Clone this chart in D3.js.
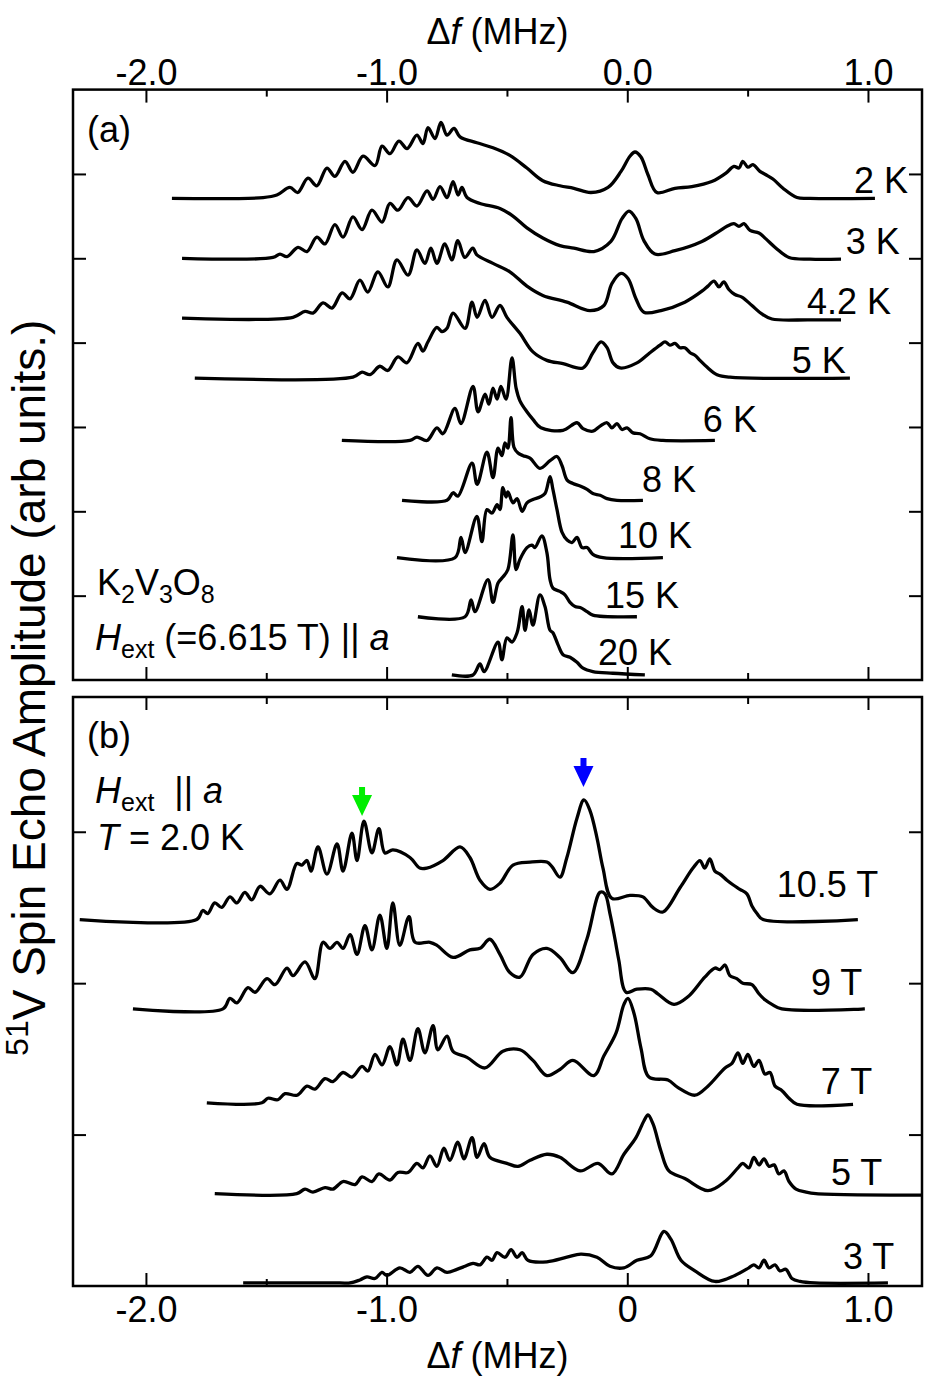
<!DOCTYPE html>
<html><head><meta charset="utf-8">
<script src="https://cdn.jsdelivr.net/npm/d3@7"></script>
<style>
body{margin:0;background:#fff}
svg{display:block}
text{font-family:"Liberation Sans",Arial,Helvetica,sans-serif;fill:#000;white-space:pre}
</style>
</head><body>
<svg id="c" width="928" height="1382"></svg>
<script>
// ---------------- DATA ----------------
const xTicksMajor = [-2, -1, 0, 1];
const xTopLabels = ["-2.0", "-1.0", "0.0", "1.0"];
const xBottomLabels = ["-2.0", "-1.0", "0", "1.0"];
const xTicksMinor = [-1.5, -0.5, 0.5];
const yTicksA = [1, 2, 3, 4, 5, 6];
const yTicksB = [1, 2, 3];

// panel (a): temperature dependence, [Δf (MHz), amplitude above offset (arb.)]
const temperatures = ["2 K", "3 K", "4.2 K", "5 K", "6 K", "8 K", "10 K", "15 K", "20 K"];
const tempOffsets = [5.71, 5.00, 4.29, 3.58, 2.84, 2.13, 1.45, 0.75, 0.06];
const spec2K = [[-1.892,0],[-1.513,0.01],[-1.456,0.04],[-1.402,0.13],[-1.369,0.07],[-1.327,0.24],[-1.290,0.15],[-1.248,0.36],[-1.215,0.26],[-1.173,0.44],[-1.140,0.31],[-1.098,0.50],[-1.048,0.39],[-1.019,0.62],[-0.986,0.53],[-0.949,0.68],[-0.915,0.59],[-0.874,0.75],[-0.849,0.65],[-0.828,0.84],[-0.799,0.71],[-0.774,0.90],[-0.749,0.75],[-0.720,0.83],[-0.695,0.73],[-0.625,0.66],[-0.558,0.60],[-0.488,0.51],[-0.417,0.36],[-0.351,0.21],[-0.280,0.15],[-0.222,0.12],[-0.151,0.07],[-0.080,0.13],[-0.026,0.32],[0.011,0.50],[0.032,0.55],[0.057,0.49],[0.086,0.28],[0.123,0.07],[0.198,0.12],[0.268,0.14],[0.351,0.20],[0.410,0.30],[0.443,0.38],[0.464,0.36],[0.480,0.44],[0.501,0.37],[0.522,0.40],[0.551,0.32],[0.576,0.28],[0.605,0.23],[0.647,0.12],[0.705,0.01],[0.759,0],[1.029,0]];
const spec3K = [[-1.850,0],[-1.472,0.01],[-1.443,0.05],[-1.414,0.02],[-1.368,0.13],[-1.331,0.08],[-1.290,0.25],[-1.256,0.17],[-1.215,0.40],[-1.181,0.25],[-1.140,0.49],[-1.102,0.34],[-1.061,0.57],[-1.019,0.43],[-0.986,0.65],[-0.953,0.57],[-0.911,0.72],[-0.874,0.62],[-0.832,0.80],[-0.807,0.70],[-0.778,0.85],[-0.749,0.72],[-0.724,0.91],[-0.703,0.75],[-0.687,0.84],[-0.666,0.72],[-0.612,0.65],[-0.529,0.59],[-0.475,0.50],[-0.417,0.36],[-0.351,0.24],[-0.280,0.15],[-0.222,0.12],[-0.139,0.08],[-0.068,0.20],[-0.022,0.47],[0.007,0.56],[0.036,0.47],[0.069,0.21],[0.115,0.05],[0.198,0.09],[0.310,0.20],[0.381,0.32],[0.414,0.38],[0.443,0.41],[0.464,0.38],[0.485,0.41],[0.510,0.33],[0.547,0.30],[0.576,0.23],[0.618,0.12],[0.672,0.01],[0.759,-0.01],[0.888,-0.01]];
const spec4K2 = [[-1.850,0],[-1.389,0.01],[-1.339,0.08],[-1.306,0.06],[-1.264,0.18],[-1.227,0.12],[-1.185,0.30],[-1.152,0.23],[-1.111,0.45],[-1.078,0.31],[-1.036,0.55],[-0.995,0.37],[-0.957,0.69],[-0.911,0.51],[-0.874,0.81],[-0.841,0.65],[-0.816,0.83],[-0.791,0.65],[-0.758,0.88],[-0.729,0.69],[-0.704,0.92],[-0.675,0.72],[-0.642,0.83],[-0.625,0.75],[-0.558,0.65],[-0.488,0.55],[-0.417,0.38],[-0.351,0.27],[-0.251,0.19],[-0.155,0.09],[-0.097,0.15],[-0.064,0.41],[-0.026,0.53],[0.003,0.47],[0.036,0.23],[0.069,0.07],[0.140,0.09],[0.239,0.19],[0.310,0.32],[0.335,0.38],[0.360,0.44],[0.381,0.37],[0.401,0.43],[0.422,0.34],[0.447,0.28],[0.476,0.25],[0.518,0.15],[0.559,0.05],[0.601,-0.01],[0.755,-0.02],[0.888,-0.02]];
const spec5K = [[-1.797,0],[-1.140,0.01],[-1.102,0.07],[-1.069,0.04],[-1.028,0.14],[-0.995,0.09],[-0.953,0.25],[-0.916,0.18],[-0.870,0.41],[-0.849,0.32],[-0.828,0.43],[-0.791,0.60],[-0.770,0.55],[-0.749,0.59],[-0.724,0.77],[-0.674,0.59],[-0.645,0.90],[-0.624,0.72],[-0.591,0.92],[-0.562,0.72],[-0.529,0.86],[-0.500,0.72],[-0.446,0.53],[-0.392,0.31],[-0.334,0.21],[-0.267,0.17],[-0.184,0.12],[-0.143,0.30],[-0.109,0.43],[-0.084,0.36],[-0.059,0.18],[-0.030,0.12],[0.040,0.18],[0.094,0.30],[0.136,0.39],[0.157,0.43],[0.177,0.39],[0.198,0.41],[0.219,0.36],[0.239,0.36],[0.261,0.30],[0.281,0.27],[0.302,0.21],[0.331,0.13],[0.373,0.04],[0.427,0.01],[0.925,0]];
const spec6K = [[-1.186,0],[-0.903,0],[-0.874,0.04],[-0.832,0],[-0.791,0.15],[-0.766,0.08],[-0.716,0.38],[-0.691,0.20],[-0.641,0.64],[-0.620,0.34],[-0.591,0.55],[-0.575,0.43],[-0.558,0.62],[-0.541,0.49],[-0.525,0.64],[-0.504,0.49],[-0.479,0.98],[-0.462,0.62],[-0.446,0.47],[-0.417,0.34],[-0.392,0.25],[-0.359,0.15],[-0.267,0.12],[-0.209,0.21],[-0.184,0.14],[-0.143,0.11],[-0.113,0.17],[-0.084,0.21],[-0.064,0.15],[-0.043,0.20],[-0.022,0.13],[-0.001,0.15],[0.024,0.09],[0.053,0.08],[0.094,0.02],[0.148,0],[0.364,0]];
const spec8K = [[-0.936,0],[-0.749,0],[-0.724,0.09],[-0.704,0.05],[-0.645,0.44],[-0.624,0.19],[-0.583,0.57],[-0.558,0.27],[-0.537,0.62],[-0.521,0.53],[-0.508,0.68],[-0.496,0.62],[-0.483,0.98],[-0.471,0.63],[-0.454,0.56],[-0.433,0.53],[-0.404,0.50],[-0.363,0.38],[-0.321,0.47],[-0.292,0.52],[-0.271,0.41],[-0.250,0.24],[-0.226,0.20],[-0.196,0.17],[-0.167,0.13],[-0.143,0.08],[-0.113,0.06],[-0.084,0.02],[-0.043,0],[0.065,0]];
const spec10K = [[-0.957,0],[-0.716,0],[-0.691,0.24],[-0.674,0.06],[-0.625,0.49],[-0.604,0.19],[-0.583,0.57],[-0.562,0.53],[-0.541,0.63],[-0.529,0.57],[-0.517,0.83],[-0.504,0.72],[-0.496,0.78],[-0.475,0.65],[-0.458,0.70],[-0.437,0.55],[-0.417,0.65],[-0.392,0.69],[-0.363,0.72],[-0.342,0.76],[-0.321,0.96],[-0.309,0.81],[-0.292,0.57],[-0.271,0.30],[-0.250,0.21],[-0.230,0.18],[-0.209,0.24],[-0.188,0.12],[-0.167,0.12],[-0.143,0.04],[-0.101,0],[0.148,0]];
const spec15K = [[-0.870,0],[-0.674,0],[-0.649,0.20],[-0.633,0.06],[-0.579,0.44],[-0.558,0.17],[-0.537,0.40],[-0.517,0.47],[-0.496,0.56],[-0.475,0.97],[-0.462,0.56],[-0.446,0.68],[-0.417,0.82],[-0.396,0.85],[-0.384,0.82],[-0.355,0.96],[-0.334,0.76],[-0.321,0.44],[-0.309,0.34],[-0.280,0.30],[-0.259,0.26],[-0.238,0.17],[-0.217,0.12],[-0.196,0.11],[-0.167,0.06],[-0.143,0.02],[0.040,0]];
const spec20K = [[-0.729,0],[-0.641,0],[-0.612,0.13],[-0.595,0.04],[-0.537,0.39],[-0.521,0.18],[-0.500,0.44],[-0.479,0.39],[-0.458,0.50],[-0.437,0.81],[-0.425,0.53],[-0.408,0.77],[-0.392,0.59],[-0.363,0.95],[-0.342,0.81],[-0.321,0.53],[-0.309,0.50],[-0.288,0.36],[-0.267,0.24],[-0.238,0.21],[-0.209,0.15],[-0.184,0.08],[-0.143,0.04],[-0.060,0.02],[0.073,0]];
const tempSpectra = [spec2K, spec3K, spec4K2, spec5K, spec6K, spec8K, spec10K, spec15K, spec20K];

// panel (b): field dependence at T = 2.0 K
const fields = ["10.5 T", "9 T", "7 T", "5 T", "3 T"];
const fieldOffsets = [2.42, 1.83, 1.21, 0.61, 0.02];
const spec10T5 = [[-2.275,0],[-1.789,0],[-1.764,0.06],[-1.743,0.04],[-1.714,0.11],[-1.685,0.08],[-1.651,0.15],[-1.622,0.11],[-1.589,0.18],[-1.560,0.13],[-1.526,0.22],[-1.485,0.17],[-1.443,0.26],[-1.414,0.20],[-1.373,0.37],[-1.352,0.36],[-1.331,0.39],[-1.314,0.32],[-1.285,0.48],[-1.248,0.30],[-1.206,0.50],[-1.181,0.32],[-1.144,0.57],[-1.123,0.39],[-1.094,0.65],[-1.061,0.44],[-1.032,0.60],[-1.007,0.44],[-0.974,0.46],[-0.903,0.41],[-0.862,0.34],[-0.833,0.34],[-0.766,0.39],[-0.695,0.48],[-0.654,0.41],[-0.612,0.26],[-0.571,0.20],[-0.529,0.24],[-0.475,0.36],[-0.404,0.38],[-0.334,0.38],[-0.313,0.35],[-0.280,0.28],[-0.251,0.41],[-0.209,0.67],[-0.180,0.79],[-0.155,0.72],[-0.126,0.54],[-0.101,0.34],[-0.064,0.14],[0.011,0.16],[0.065,0.15],[0.106,0.08],[0.148,0.05],[0.219,0.21],[0.273,0.34],[0.302,0.39],[0.322,0.34],[0.343,0.40],[0.364,0.32],[0.385,0.30],[0.414,0.26],[0.439,0.23],[0.468,0.20],[0.497,0.17],[0.518,0.09],[0.539,0.04],[0.564,0],[0.958,0]];
const spec9T = [[-2.054,0],[-1.680,0],[-1.651,0.07],[-1.622,0.04],[-1.576,0.14],[-1.547,0.11],[-1.497,0.20],[-1.464,0.16],[-1.414,0.27],[-1.389,0.22],[-1.339,0.31],[-1.298,0.20],[-1.264,0.44],[-1.235,0.40],[-1.206,0.44],[-1.181,0.40],[-1.152,0.49],[-1.123,0.36],[-1.090,0.55],[-1.061,0.39],[-1.028,0.62],[-0.999,0.40],[-0.974,0.70],[-0.945,0.42],[-0.907,0.61],[-0.882,0.44],[-0.820,0.44],[-0.791,0.42],[-0.724,0.34],[-0.654,0.39],[-0.612,0.40],[-0.571,0.46],[-0.529,0.36],[-0.488,0.24],[-0.446,0.21],[-0.392,0.36],[-0.334,0.40],[-0.280,0.34],[-0.226,0.24],[-0.168,0.46],[-0.113,0.77],[-0.093,0.76],[-0.072,0.63],[-0.051,0.46],[-0.035,0.32],[-0.005,0.11],[0.040,0.13],[0.098,0.13],[0.127,0.10],[0.194,0.03],[0.252,0.08],[0.322,0.21],[0.364,0.27],[0.385,0.26],[0.406,0.29],[0.426,0.22],[0.455,0.20],[0.480,0.17],[0.518,0.16],[0.547,0.10],[0.572,0.06],[0.601,0.03],[0.642,0],[0.987,0]];
const spec7T = [[-1.747,0],[-1.518,0],[-1.493,0.03],[-1.452,0.02],[-1.422,0.06],[-1.372,0.05],[-1.331,0.11],[-1.298,0.09],[-1.256,0.16],[-1.223,0.14],[-1.181,0.20],[-1.144,0.17],[-1.102,0.24],[-1.078,0.21],[-1.048,0.32],[-1.019,0.25],[-0.986,0.37],[-0.957,0.25],[-0.932,0.42],[-0.903,0.28],[-0.870,0.49],[-0.841,0.33],[-0.807,0.51],[-0.787,0.35],[-0.749,0.44],[-0.724,0.34],[-0.666,0.30],[-0.591,0.23],[-0.517,0.34],[-0.446,0.35],[-0.392,0.28],[-0.334,0.18],[-0.280,0.22],[-0.226,0.28],[-0.139,0.18],[-0.097,0.31],[-0.047,0.46],[-0.014,0.65],[0.003,0.69],[0.028,0.59],[0.057,0.36],[0.090,0.17],[0.169,0.15],[0.211,0.10],[0.281,0.05],[0.335,0.11],[0.406,0.23],[0.435,0.26],[0.460,0.33],[0.480,0.26],[0.501,0.32],[0.526,0.24],[0.547,0.28],[0.572,0.19],[0.593,0.20],[0.614,0.11],[0.643,0.08],[0.672,0.03],[0.705,-0.01],[0.938,-0.01]];
const spec5T = [[-1.714,0],[-1.373,0],[-1.339,0.03],[-1.306,0.01],[-1.256,0.04],[-1.223,0.03],[-1.181,0.08],[-1.131,0.06],[-1.102,0.11],[-1.061,0.08],[-1.032,0.13],[-0.986,0.09],[-0.953,0.14],[-0.911,0.14],[-0.874,0.20],[-0.849,0.17],[-0.820,0.25],[-0.791,0.18],[-0.762,0.30],[-0.737,0.22],[-0.704,0.34],[-0.679,0.23],[-0.645,0.37],[-0.624,0.24],[-0.595,0.33],[-0.571,0.24],[-0.500,0.20],[-0.454,0.18],[-0.404,0.22],[-0.334,0.26],[-0.280,0.24],[-0.196,0.15],[-0.122,0.20],[-0.064,0.13],[-0.014,0.26],[0.036,0.37],[0.069,0.48],[0.086,0.52],[0.107,0.46],[0.140,0.28],[0.173,0.15],[0.239,0.10],[0.335,0.02],[0.406,0.08],[0.460,0.17],[0.480,0.20],[0.505,0.17],[0.526,0.24],[0.547,0.19],[0.568,0.23],[0.589,0.18],[0.610,0.19],[0.630,0.13],[0.651,0.15],[0.672,0.08],[0.701,0.03],[0.743,0.01],[0.784,0],[1.224,-0.01]];
const spec3T = [[-1.596,0],[-1.194,0],[-1.152,0],[-1.111,0.02],[-1.082,0.04],[-1.048,0.03],[-1.019,0.07],[-0.999,0.05],[-0.945,0.10],[-0.903,0.07],[-0.870,0.11],[-0.828,0.05],[-0.791,0.10],[-0.749,0.07],[-0.708,0.09],[-0.674,0.11],[-0.641,0.13],[-0.612,0.12],[-0.583,0.17],[-0.562,0.15],[-0.541,0.20],[-0.508,0.17],[-0.483,0.22],[-0.458,0.17],[-0.437,0.20],[-0.413,0.15],[-0.334,0.14],[-0.251,0.17],[-0.193,0.19],[-0.126,0.17],[-0.072,0.11],[-0.014,0.10],[0.040,0.15],[0.098,0.18],[0.152,0.34],[0.181,0.29],[0.223,0.15],[0.281,0.08],[0.364,0.01],[0.447,0.05],[0.505,0.10],[0.526,0.12],[0.547,0.10],[0.568,0.15],[0.589,0.10],[0.614,0.12],[0.634,0.08],[0.659,0.09],[0.684,0.03],[0.718,0.01],[0.780,0],[1.083,0]];
const fieldSpectra = [spec10T5, spec9T, spec7T, spec5T, spec3T];

// arrows marking lines in the 10.5 T spectrum: [Δf, tip height]
const arrowF = [-1.102, -0.182];
const arrowTip = [3.104, 3.296];

// ---------------- LAYOUT ----------------
const L = 73, R = 922, aTop = 89.6, aBot = 680, bTop = 697, bBot = 1286;
const FS = 36;
const tempLabelPos = [[0.942,5.77],[0.908,5.05],[0.747,4.34],[0.683,3.64],[0.314,2.94],[0.061,2.23],[-0.039,1.56],[-0.093,0.85],[-0.122,0.18]];
const fieldLabelPos = [[0.621,2.57],[0.763,1.92],[0.804,1.27],[0.846,0.67],[0.896,0.11]];
const arrowColors = ["#00ee00", "#0000ff"];

const svg = d3.select("#c");
const x = d3.scaleLinear().domain([-2.303, 1.2245]).range([L, R]);
const ya = d3.scaleLinear().domain([0, 7]).range([aBot, aTop]);
const yb = d3.scaleLinear().domain([0, 3.89]).range([bBot, bTop]);

function styleAxis(g) {
  g.select(".domain").remove();
  g.selectAll(".tick line").attr("stroke", "#000").attr("stroke-width", 2);
  g.attr("font-size", FS).attr("font-family", '"Liberation Sans", Arial, sans-serif');
  g.selectAll("text").attr("fill", "#000");
}
function xAxes(yPos, gen, labels, pad) {
  const maj = gen(x).tickValues(xTicksMajor).tickSize(-13).tickPadding(pad)
    .tickFormat((d, i) => labels ? labels[i] : "");
  svg.append("g").attr("transform", `translate(0,${yPos})`).call(maj).call(styleAxis);
  const mnr = gen(x).tickValues(xTicksMinor).tickSize(-7).tickFormat("");
  svg.append("g").attr("transform", `translate(0,${yPos})`).call(mnr).call(styleAxis);
}
function yAxes(ys, ticks) {
  svg.append("g").attr("transform", `translate(${L},0)`)
    .call(d3.axisLeft(ys).tickValues(ticks).tickSize(-13).tickFormat("")).call(styleAxis);
  svg.append("g").attr("transform", `translate(${R},0)`)
    .call(d3.axisRight(ys).tickValues(ticks).tickSize(-13).tickFormat("")).call(styleAxis);
}

// frames
[[aTop, aBot], [bTop, bBot]].forEach(([t, b]) => {
  svg.append("rect").attr("x", L).attr("y", t).attr("width", R - L).attr("height", b - t)
    .attr("fill", "none").attr("stroke", "#000").attr("stroke-width", 2.5);
});
xAxes(aTop, d3.axisTop, xTopLabels, 5);
xAxes(aBot, d3.axisBottom, null, 0);
xAxes(bTop, d3.axisTop, null, 0);
xAxes(bBot, d3.axisBottom, xBottomLabels, 10);
yAxes(ya, yTicksA);
yAxes(yb, yTicksB);

// traces
const curve = d3.curveCatmullRom.alpha(0.5);
tempSpectra.forEach((s, i) => {
  const off = tempOffsets[i];
  const line = d3.line().x(d => x(d[0])).y(d => ya(off + d[1])).curve(curve);
  svg.append("path").attr("d", line(s)).attr("fill", "none").attr("stroke", "#000")
    .attr("stroke-width", 3.3).attr("stroke-linejoin", "round");
});
fieldSpectra.forEach((s, i) => {
  const off = fieldOffsets[i];
  const line = d3.line().x(d => x(d[0])).y(d => yb(off + d[1])).curve(curve);
  svg.append("path").attr("d", line(s)).attr("fill", "none").attr("stroke", "#000")
    .attr("stroke-width", 3.3).attr("stroke-linejoin", "round");
});

// trace labels
temperatures.forEach((t, i) => {
  svg.append("text").attr("x", x(tempLabelPos[i][0])).attr("y", ya(tempLabelPos[i][1]))
    .attr("font-size", FS).text(t);
});
fields.forEach((t, i) => {
  svg.append("text").attr("x", x(fieldLabelPos[i][0])).attr("y", yb(fieldLabelPos[i][1]))
    .attr("font-size", FS).text(t);
});

// arrows
arrowF.forEach((f, i) => {
  const cx = x(f), ty = yb(arrowTip[i]);
  const p = d3.path();
  p.moveTo(cx - 3, ty - 29); p.lineTo(cx + 3, ty - 29); p.lineTo(cx + 3, ty - 21);
  p.lineTo(cx + 10, ty - 21); p.lineTo(cx, ty); p.lineTo(cx - 10, ty - 21);
  p.lineTo(cx - 3, ty - 21); p.closePath();
  svg.append("path").attr("d", p.toString()).attr("fill", arrowColors[i]);
});

// annotations
function addText(xp, yp, parts, fs) {
  fs = fs || FS;
  const sub = Math.round(fs * 0.7);
  const t = svg.append("text").attr("x", xp).attr("y", yp).attr("font-size", fs);
  let shift = 0;
  parts.forEach(([s, kind]) => {
    const ts = t.append("tspan").text(s);
    if (kind === "i") ts.attr("font-style", "italic");
    if (kind === "sub") { ts.attr("font-size", sub).attr("dy", 8 - shift); shift = 8; }
    else if (kind === "sup") { ts.attr("font-size", sub).attr("dy", -Math.round(fs * 0.38) - shift); shift = -Math.round(fs * 0.38); }
    else { if (shift !== 0) { ts.attr("dy", -shift); shift = 0; } }
  });
  return t;
}
addText(87, 142, [["(a)", ""]]);
addText(97, 595, [["K", ""], ["2", "sub"], ["V", ""], ["3", "sub"], ["O", ""], ["8", "sub"]]);
addText(95, 650, [["H", "i"], ["ext", "sub"], [" (=6.615 T) || ", ""], ["a", "i"]]);
addText(87, 748, [["(b)", ""]]);
addText(95, 803, [["H", "i"], ["ext", "sub"], ["  || ", ""], ["a", "i"]]);
addText(97, 850, [["T", "i"], [" = 2.0 K", ""]]);

// axis titles
addText(0, 44, [["Δ", ""], ["f", "i"], [" (MHz)", ""]]).attr("x", (L + R) / 2).attr("text-anchor", "middle");
addText(0, 1368, [["Δ", ""], ["f", "i"], [" (MHz)", ""]]).attr("x", (L + R) / 2).attr("text-anchor", "middle");
addText(0, 0, [["51", "sup"], ["V Spin Echo Amplitude (arb units.)", ""]], 46)
  .attr("transform", `translate(45,${(aTop + bBot) / 2}) rotate(-90)`).attr("text-anchor", "middle");
</script>
</body></html>
